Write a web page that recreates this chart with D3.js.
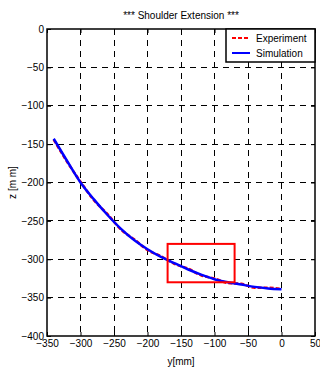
<!DOCTYPE html>
<html>
<head>
<meta charset="utf-8">
<script src="https://cdn.jsdelivr.net/npm/d3@7"></script>
<style>
  body { margin: 0; background: #fff; }
  text { font-family: "Liberation Sans", Arial, sans-serif; }
</style>
</head>
<body>
<div class="chart"></div>
<script>
// values
var yVals   = [-340, -320, -300, -280, -260, -240, -220, -200, -180, -160, -140, -120, -100, -80, -60, -40, -20, 0]
var zSim    = [-143, -172, -200, -222, -242, -260, -275, -287, -297, -305, -313, -320, -326, -330, -333, -336, -338, -339]
var zExp    = [-144, -173, -199, -223, -241, -261, -274, -288, -296, -306, -312, -321, -325, -331, -332, -337, -337, -339]
var xTicks  = [-350, -300, -250, -200, -150, -100, -50, 0, 50]
var zTicks  = [0, -50, -100, -150, -200, -250, -300, -350, -400]
var boxY    = [-170, -70]
var boxZ    = [-280, -330]

var margin = { top: 29, right: 5, bottom: 31, left: 47 }
var width = 320 - margin.left - margin.right
var height = 367 - margin.top - margin.bottom

var svg = d3.select('.chart')
  .append('svg')
    .attr('width', 320)
    .attr('height', 367)
  .append('g')
    .attr('transform', `translate(${margin.left}, ${margin.top})`)

var xScale = d3.scaleLinear().domain([-350, 50]).range([0, width])
var zScale = d3.scaleLinear().domain([-400, 0]).range([height, 0])

// dashed grid
svg.selectAll('.vgrid')
  .data(xTicks.slice(1, -1))
  .enter().append('line')
    .attr('x1', d => xScale(d)).attr('x2', d => xScale(d))
    .attr('y1', 0).attr('y2', height)
    .attr('stroke', '#000').attr('stroke-width', 1)
    .attr('stroke-dasharray', '6,5')
    .attr('shape-rendering', 'crispEdges')

svg.selectAll('.hgrid')
  .data(zTicks.slice(1, -1))
  .enter().append('line')
    .attr('x1', 0).attr('x2', width)
    .attr('y1', d => zScale(d)).attr('y2', d => zScale(d))
    .attr('stroke', '#000').attr('stroke-width', 1)
    .attr('stroke-dasharray', '6,5')
    .attr('shape-rendering', 'crispEdges')

var line = d3.line()
  .x((d, i) => xScale(yVals[i]))
  .y(d => zScale(d))
  .curve(d3.curveMonotoneX)

svg.append('path')
  .attr('d', line(zExp))
  .attr('fill', 'none')
  .attr('stroke', '#f00')
  .attr('stroke-width', 2.5)
  .attr('stroke-dasharray', '4,2')

svg.append('path')
  .attr('d', line(zSim))
  .attr('fill', 'none')
  .attr('stroke', '#00f')
  .attr('stroke-width', 2.5)

// red highlight box
svg.append('rect')
  .attr('x', xScale(boxY[0]))
  .attr('y', zScale(boxZ[0]))
  .attr('width', xScale(boxY[1]) - xScale(boxY[0]))
  .attr('height', zScale(boxZ[1]) - zScale(boxZ[0]))
  .attr('fill', 'none')
  .attr('stroke', '#f00')
  .attr('stroke-width', 2)

// axes, matlab style ticks pointing inward
var xAxis = d3.axisBottom(xScale).tickValues(xTicks).tickSizeInner(-4).tickSizeOuter(0).tickPadding(4)
var zAxis = d3.axisLeft(zScale).tickValues(zTicks).tickSizeInner(-4).tickSizeOuter(0).tickPadding(3)

var gx = svg.append('g').attr('transform', `translate(0, ${height})`).call(xAxis)
var gz = svg.append('g').call(zAxis)
svg.append('g').call(d3.axisTop(xScale).tickValues(xTicks).tickSizeInner(-4).tickSizeOuter(0).tickFormat(''))
svg.append('g').attr('transform', `translate(${width}, 0)`)
  .call(d3.axisRight(zScale).tickValues(zTicks).tickSizeInner(-4).tickSizeOuter(0).tickFormat(''))

svg.selectAll('.domain').remove()
svg.selectAll('.tick text').attr('font-size', 10).attr('fill', '#000')
  .style('font-family', '"Liberation Sans", Arial, sans-serif')

svg.append('rect')
  .attr('width', width).attr('height', height)
  .attr('fill', 'none').attr('stroke', '#000').attr('stroke-width', 1.5)

// legend
var lg = svg.append('g').attr('transform', `translate(${width - 89}, 0)`)
lg.append('rect')
  .attr('width', 89).attr('height', 33)
  .attr('fill', '#fff').attr('stroke', '#000').attr('stroke-width', 1.5)
var legendItems = [
  { name: 'Experiment', color: '#f00', dash: '4,2' },
  { name: 'Simulation', color: '#00f', dash: null }
]
legendItems.forEach(function (d, i) {
  var y = 9 + i * 15
  lg.append('line')
    .attr('x1', 6).attr('x2', 24).attr('y1', y).attr('y2', y)
    .attr('stroke', d.color).attr('stroke-width', 2)
    .attr('stroke-dasharray', d.dash)
  lg.append('text')
    .attr('x', 30).attr('y', y + 3.5)
    .attr('font-size', 10)
    .text(d.name)
})

// titles
svg.append('text')
  .attr('x', width / 2).attr('y', -10)
  .attr('text-anchor', 'middle').attr('font-size', 10)
  .text('*** Shoulder Extension ***')

svg.append('text')
  .attr('x', width / 2).attr('y', height + 29)
  .attr('text-anchor', 'middle').attr('font-size', 10)
  .text('y[mm]')

svg.append('text')
  .attr('transform', `translate(-31, ${height / 2}) rotate(-90)`)
  .attr('text-anchor', 'middle').attr('font-size', 10)
  .text('z [m m]')
</script>
</body>
</html>
